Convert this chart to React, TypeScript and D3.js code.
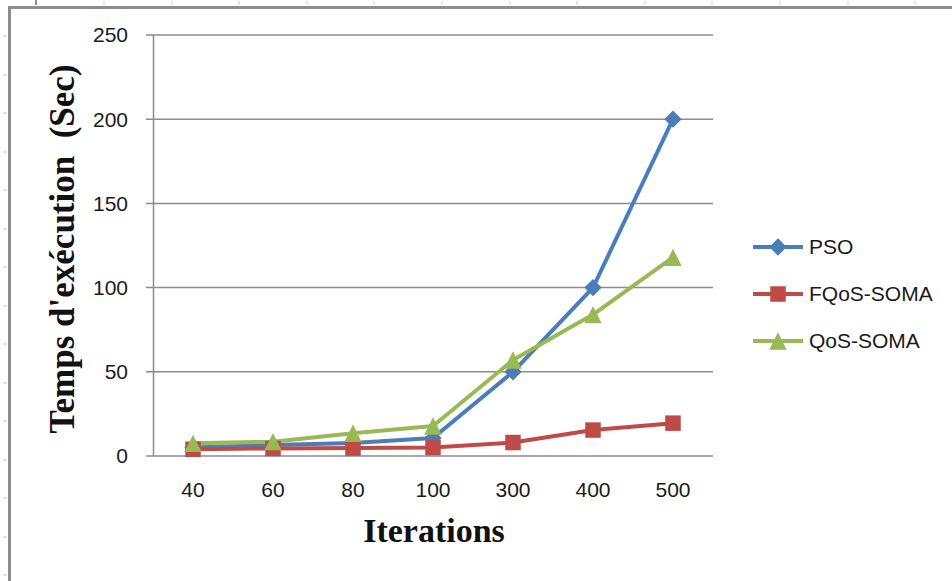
import { scaleBand, scaleLinear, line as d3line, symbol, symbolSquare } from "d3";
import type { SymbolType } from "d3";

const iterations = ["40", "60", "80", "100", "300", "400", "500"];
const pso = [5, 6.5, 7.7, 10.7, 50, 100, 200];
const fqosSoma = [4, 4.5, 4.7, 5, 8, 15.4, 19.5];
const qosSoma = [7.5, 8.5, 13.5, 17.8, 57, 84, 118];
const yTicks = [0, 50, 100, 150, 200, 250];

// Excel style markers: diamond and triangle as wide as they are tall
const excelDiamond: SymbolType = {
  draw(ctx, size) {
    const r = Math.sqrt(size / 2);
    ctx.moveTo(0, -r);
    ctx.lineTo(r, 0);
    ctx.lineTo(0, r);
    ctx.lineTo(-r, 0);
    ctx.closePath();
  },
};
const excelTriangle: SymbolType = {
  draw(ctx, size) {
    const r = Math.sqrt(size * 2) / 2;
    ctx.moveTo(0, -r);
    ctx.lineTo(r, r);
    ctx.lineTo(-r, r);
    ctx.closePath();
  },
};

const series = [
  { name: "PSO", values: pso, color: "#4a7ebb", shape: excelDiamond, size: 150 },
  { name: "FQoS-SOMA", values: fqosSoma, color: "#be4b48", shape: symbolSquare, size: 240 },
  { name: "QoS-SOMA", values: qosSoma, color: "#98b954", shape: excelTriangle, size: 150 },
];

const W = 952;
const H = 581;

export default function App() {
  let xScale = scaleBand<string>().domain(iterations).range([153, 713]);
  let yScale = scaleLinear().domain([0, 250]).range([456, 35]);
  let cx = (c: string) => (xScale(c) ?? 0) + xScale.bandwidth() / 2;

  let line = d3line<number>()
    .x((_, i) => cx(iterations[i]))
    .y((d) => yScale(d));

  const sansFont = "'Liberation Sans', Arial, sans-serif";
  const serifFont = "'Liberation Serif', 'Times New Roman', serif";

  // little ruler ticks round the frame, like the screenshot
  const leftTicks = [36, 75, 113, 152, 190, 229, 267, 306, 344, 383, 421, 460, 498, 537, 575];
  const topTicks = [104, 172, 239, 307, 374, 442, 510, 577, 645, 712, 780, 848, 915];

  return (
    <svg
      width={W}
      height={H}
      style={{ position: "absolute", left: 0, top: 0, background: "#fff" }}
    >
      {/* frame */}
      <line x1={8} y1={7.5} x2={W} y2={7.5} stroke="#8c8c8c" strokeWidth={3} />
      <line x1={9.5} y1={6} x2={9.5} y2={H} stroke="#8c8c8c" strokeWidth={3} />
      {leftTicks.map((y) => (
        <line key={"l" + y} x1={3} y1={y} x2={7} y2={y} stroke="#c8c8c8" strokeWidth={1} />
      ))}
      {topTicks.map((x) => (
        <line key={"t" + x} x1={x} y1={1} x2={x} y2={5} stroke="#d0d0d0" strokeWidth={1} />
      ))}
      <line x1={36} y1={0} x2={36} y2={5} stroke="#222" strokeWidth={1} />

      {/* grid + y labels */}
      {yTicks.map((t) => (
        <g key={t}>
          <line
            x1={146}
            x2={713}
            y1={yScale(t)}
            y2={yScale(t)}
            stroke="#8c8c8c"
            strokeWidth={1.5}
          />
          <text
            x={128}
            y={yScale(t)}
            dy="0.35em"
            textAnchor="end"
            fontFamily={sansFont}
            fontSize={21}
            fill="#1a1a1a"
          >
            {t}
          </text>
        </g>
      ))}

      {/* y axis */}
      <line x1={153.5} y1={35} x2={153.5} y2={456} stroke="#8c8c8c" strokeWidth={1.5} />

      {/* x labels */}
      {iterations.map((c) => (
        <text
          key={c}
          x={cx(c)}
          y={497}
          textAnchor="middle"
          fontFamily={sansFont}
          fontSize={21}
          fill="#1a1a1a"
        >
          {c}
        </text>
      ))}

      {/* axis titles */}
      <text
        x={434}
        y={542}
        textAnchor="middle"
        fontFamily={serifFont}
        fontWeight="bold"
        fontSize={34}
        fill="#111"
      >
        Iterations
      </text>
      <text
        transform="translate(74,249) rotate(-90)"
        textAnchor="middle"
        fontFamily={serifFont}
        fontWeight="bold"
        fontSize={35}
        fill="#111"
        xmlSpace="preserve"
        style={{ whiteSpace: "pre" }}
      >
        {"Temps d'exécution  (Sec)"}
      </text>

      {/* lines */}
      {series.map((s) => (
        <path
          key={s.name}
          d={line(s.values) ?? undefined}
          fill="none"
          stroke={s.color}
          strokeWidth={4}
          strokeLinejoin="round"
        />
      ))}

      {/* markers */}
      {series.map((s) => (
        <g key={s.name + "-m"}>
          {s.values.map((v, i) => (
            <path
              key={i}
              d={symbol(s.shape, s.size)() ?? undefined}
              transform={`translate(${cx(iterations[i])},${yScale(v)})`}
              fill={s.color}
            />
          ))}
        </g>
      ))}

      {/* legend */}
      {series.map((s, i) => {
        const y = 247 + i * 47;
        return (
          <g key={s.name + "-lg"}>
            <line x1={753} x2={803} y1={y} y2={y} stroke={s.color} strokeWidth={4} />
            <path
              d={symbol(s.shape, s.size)() ?? undefined}
              transform={`translate(778,${y})`}
              fill={s.color}
            />
            <text
              x={809}
              y={y}
              dy="0.35em"
              fontFamily={sansFont}
              fontSize={21}
              fill="#1a1a1a"
            >
              {s.name}
            </text>
          </g>
        );
      })}
    </svg>
  );
}
